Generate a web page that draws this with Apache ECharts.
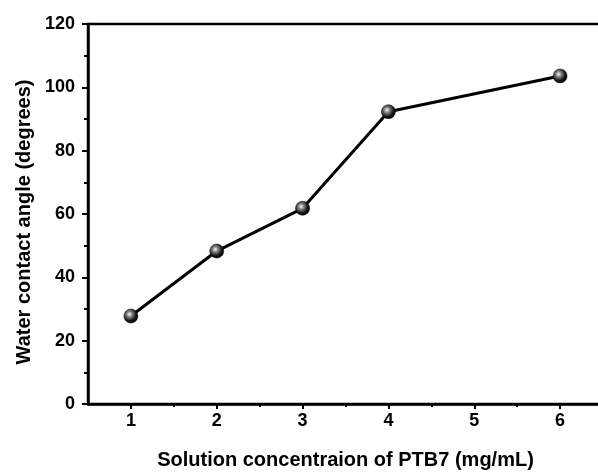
<!DOCTYPE html>
<html>
<head>
<meta charset="utf-8">
<script src="https://cdn.jsdelivr.net/npm/echarts@6/dist/echarts.min.js"></script>
<style>
  html, body { margin: 0; padding: 0; background: #fff; }
  #chart { width: 598px; height: 473px; }
</style>
</head>
<body>
<div id="chart"></div>
<script>
// PTB7 concentration (mg/mL) vs water contact angle (degrees)
const concentrations = [1, 2, 3, 4, 6];
const contactAngles = [27.8, 48.3, 61.8, 92.3, 103.6];
const xMajorTicks = [1, 2, 3, 4, 5, 6];
const xMinorTicks = [1.5, 2.5, 3.5, 4.5, 5.5];

const FONT = '"Liberation Sans", Arial, sans-serif';

const ball = {
  type: 'radial', x: 0.4, y: 0.38, r: 0.65,
  colorStops: [
    { offset: 0, color: '#f8f8f8' },
    { offset: 0.3, color: '#808080' },
    { offset: 0.7, color: '#151515' },
    { offset: 1, color: '#000' }
  ]
};

const chart = echarts.init(document.getElementById('chart'));
chart.setOption({
  animation: false,
  // plot area runs past the right edge of the picture, as in the original
  grid: {
    left: 88, top: 24, width: 515, height: 380,
    outerBoundsMode: 'none', containLabel: false,
    show: true, borderColor: '#000', borderWidth: 2.5
  },
  xAxis: [
    {
      type: 'value', min: 0.5, max: 6.5,
      name: 'Solution concentraion of PTB7 (mg/mL)',
      nameLocation: 'middle', nameGap: 46,
      nameTextStyle: { fontFamily: FONT, fontWeight: 'bold', fontSize: 20, color: '#000' },
      axisLine: { lineStyle: { color: '#000', width: 2.5 } },
      axisTick: { customValues: xMajorTicks, length: 5, lineStyle: { color: '#000', width: 2 } },
      axisLabel: { customValues: xMajorTicks, margin: 8, fontFamily: FONT, fontWeight: 'bold', fontSize: 18, color: '#000' },
      splitLine: { show: false }
    },
    {
      type: 'value', min: 0.5, max: 6.5, position: 'bottom',
      axisLine: { show: false },
      axisTick: { customValues: xMinorTicks, length: 3, lineStyle: { color: '#000', width: 2 } },
      axisLabel: { show: false },
      splitLine: { show: false }
    }
  ],
  yAxis: {
    type: 'value', min: 0, max: 120, interval: 20,
    name: 'Water contact angle (degrees)',
    nameLocation: 'middle', nameGap: 46,
    nameTextStyle: { fontFamily: FONT, fontWeight: 'bold', fontSize: 20, color: '#000', padding: [0, 16, 0, 0] },
    axisLine: { show: true, lineStyle: { color: '#000', width: 2.5 } },
    axisTick: { show: true, length: 6, lineStyle: { color: '#000', width: 2 } },
    minorTick: { show: true, splitNumber: 2, length: 4, lineStyle: { color: '#000', width: 2 } },
    axisLabel: { margin: 13, fontFamily: FONT, fontWeight: 'bold', fontSize: 18, color: '#000' },
    splitLine: { show: false }
  },
  series: [{
    type: 'line',
    data: concentrations.map((c, i) => [c, contactAngles[i]]),
    symbol: 'circle', symbolSize: 14,
    lineStyle: { color: '#000', width: 3 },
    itemStyle: { color: ball, borderColor: '#000', borderWidth: 0.5 }
  }]
});
</script>
</body>
</html>
